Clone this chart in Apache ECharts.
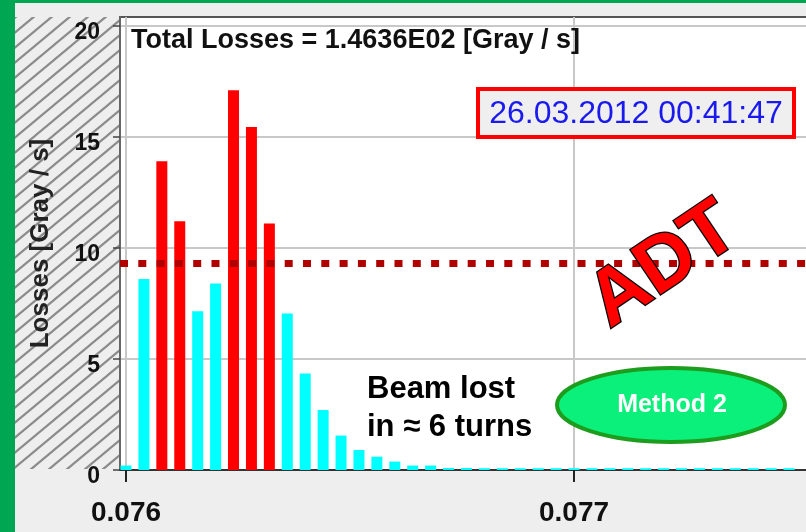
<!DOCTYPE html>
<html>
<head>
<meta charset="utf-8">
<script src="https://cdn.jsdelivr.net/npm/echarts@6/dist/echarts.min.js"></script>
<style>
html, body { margin: 0; padding: 0; background: #eeeeee; }
#chart { width: 806px; height: 532px; }
</style>
</head>
<body>
<div id="chart"></div>
<script>
const FONT = 'Liberation Sans, Arial, sans-serif'

// bin start times [s]
const binTimes = [
    0.07600, 0.07604, 0.07608, 0.07612, 0.07616, 0.07620, 0.07624, 0.07628,
    0.07632, 0.07636, 0.07640, 0.07644, 0.07648, 0.07652, 0.07656, 0.07660,
    0.07664, 0.07668, 0.07672, 0.07676, 0.07680, 0.07684, 0.07688, 0.07692,
    0.07696, 0.07700, 0.07704, 0.07708, 0.07712, 0.07716, 0.07720, 0.07724,
    0.07728, 0.07732, 0.07736, 0.07740, 0.07744, 0.07748
]
// losses [Gray / s]
const losses = [
    0.2, 8.6, 13.9, 11.2, 7.15, 8.4, 17.1, 15.45, 11.1, 7.05,
    4.35, 2.7, 1.55, 0.9, 0.6, 0.38, 0.2, 0.2, 0.09, 0.09,
    0.08, 0.08, 0.08, 0.08, 0.08, 0.08, 0.08, 0.08, 0.08, 0.08,
    0.08, 0.08, 0.08, 0.08, 0.08, 0.08, 0.08, 0.08
]
const redBins = [2, 3, 6, 7, 8]   // bins above threshold
const threshold = 9.3
const xTicks = [0.076, 0.077]
const yTicks = [0, 5, 10, 15, 20]

// hatch tile for the left strip
const TW = 18, TH = 15
const tile = document.createElement('canvas')
tile.width = TW
tile.height = TH
const g = tile.getContext('2d')
g.fillStyle = '#eeeeee'
g.fillRect(0, 0, TW, TH)
g.strokeStyle = '#8c8c8c'
g.lineWidth = 2.2
g.beginPath()
g.moveTo(-TW, 2 * TH); g.lineTo(2 * TW, -TH)
g.moveTo(-TW, TH); g.lineTo(TW, -TH)
g.moveTo(0, 2 * TH); g.lineTo(2 * TW, 0)
g.stroke()

const chart = echarts.init(document.getElementById('chart'))

const option = {
    backgroundColor: '#eeeeee',
    animation: false,
    grid: {
        left: 120, right: -2, top: 17, bottom: 62,
        show: true,
        backgroundColor: '#ffffff',
        borderColor: '#555555',
        borderWidth: 2,
        outerBoundsMode: 'none'
    },
    xAxis: {
        type: 'value',
        min: 0.0759866,
        max: 0.0775223,
        axisLine: { lineStyle: { color: '#333333', width: 2 } },
        axisTick: {
            customValues: xTicks,
            length: 12,
            lineStyle: { color: '#222222', width: 2 }
        },
        axisLabel: {
            customValues: xTicks,
            formatter: (v) => v.toFixed(3),
            fontFamily: FONT,
            fontSize: 28,
            fontWeight: 'bold',
            color: '#111111',
            margin: 29
        },
        splitLine: { show: true, lineStyle: { color: '#c8c8c8', width: 2 } }
    },
    yAxis: {
        type: 'value',
        min: 0,
        max: 20.4,
        name: 'Losses [Gray / s]',
        nameLocation: 'middle',
        nameRotate: 90,
        nameGap: 66,
        nameTextStyle: { fontFamily: FONT, fontSize: 26, fontWeight: 'bold', color: '#222222' },
        axisLine: { show: true, lineStyle: { color: '#666666', width: 2 } },
        axisTick: {
            show: true,
            customValues: yTicks,
            length: 7,
            lineStyle: { color: '#444444', width: 1.5 }
        },
        axisLabel: {
            customValues: yTicks,
            fontFamily: FONT,
            fontSize: 23,
            fontWeight: 'bold',
            color: '#111111',
            margin: 20,
            verticalAlign: 'top',
            lineHeight: 14
        },
        splitLine: { show: true, lineStyle: { color: '#c8c8c8', width: 2 } }
    },
    series: [
        {
            type: 'bar',
            barWidth: 11,
            data: binTimes.map((t, i) => [t, losses[i]]),
            itemStyle: {
                color: (p) => redBins.includes(p.dataIndex) ? '#ff0000' : '#00ffff'
            },
            markLine: {
                silent: true,
                symbol: 'none',
                label: { show: false },
                lineStyle: { color: '#b00000', width: 7, type: [8, 10.3] },
                data: [{ yAxis: threshold }]
            }
        }
    ],
    graphic: [
        { type: 'rect', shape: { x: 0, y: 0, width: 15, height: 532 }, style: { fill: '#00a651' } },
        { type: 'rect', shape: { x: 0, y: 0, width: 806, height: 3 }, style: { fill: '#00a651' } },
        {
            type: 'rect',
            shape: { x: 15, y: 17, width: 104, height: 452 },
            style: { fill: { image: tile, repeat: 'repeat' } }
        },
        {
            type: 'text', z: 100, x: 131, y: 27,
            style: {
                text: 'Total Losses = 1.4636E02 [Gray / s]',
                font: 'bold 27px ' + FONT,
                fill: '#111111',
                verticalAlign: 'top', textVerticalAlign: 'top'
            }
        },
        {
            type: 'rect', z: 100,
            shape: { x: 478, y: 89, width: 316, height: 48 },
            style: { fill: '#efefef', stroke: '#ff0000', lineWidth: 4 }
        },
        {
            type: 'text', z: 101, x: 636, y: 114,
            style: {
                text: '26.03.2012 00:41:47',
                font: '32px ' + FONT,
                fill: '#1a1aee',
                align: 'center', textAlign: 'center',
                verticalAlign: 'middle', textVerticalAlign: 'middle'
            }
        },
        {
            type: 'text', z: 100, x: 664, y: 266, rotation: 0.593,
            style: {
                text: 'ADT',
                font: 'bold 78px ' + FONT,
                fill: '#ff0000',
                stroke: '#000000',
                lineWidth: 2.5,
                shadowColor: 'rgba(0,0,0,0.6)',
                shadowBlur: 4,
                shadowOffsetX: 3,
                shadowOffsetY: 3,
                align: 'center', textAlign: 'center',
                verticalAlign: 'middle', textVerticalAlign: 'middle'
            }
        },
        {
            type: 'text', z: 100, x: 367, y: 370,
            style: {
                text: 'Beam lost\nin \u2248 6 turns',
                font: 'bold 31px ' + FONT,
                lineHeight: 38,
                fill: '#000000',
                verticalAlign: 'top', textVerticalAlign: 'top'
            }
        },
        {
            type: 'ellipse', z: 100,
            shape: { cx: 671, cy: 405, rx: 114, ry: 37 },
            style: { fill: '#0bf07a', stroke: '#1e9c1e', lineWidth: 4 }
        },
        {
            type: 'text', z: 101, x: 672, y: 405,
            style: {
                text: 'Method 2',
                font: 'bold 25px ' + FONT,
                fill: '#ffffff',
                align: 'center', textAlign: 'center',
                verticalAlign: 'middle', textVerticalAlign: 'middle'
            }
        }
    ]
}
chart.setOption(option)
</script>
</body>
</html>
